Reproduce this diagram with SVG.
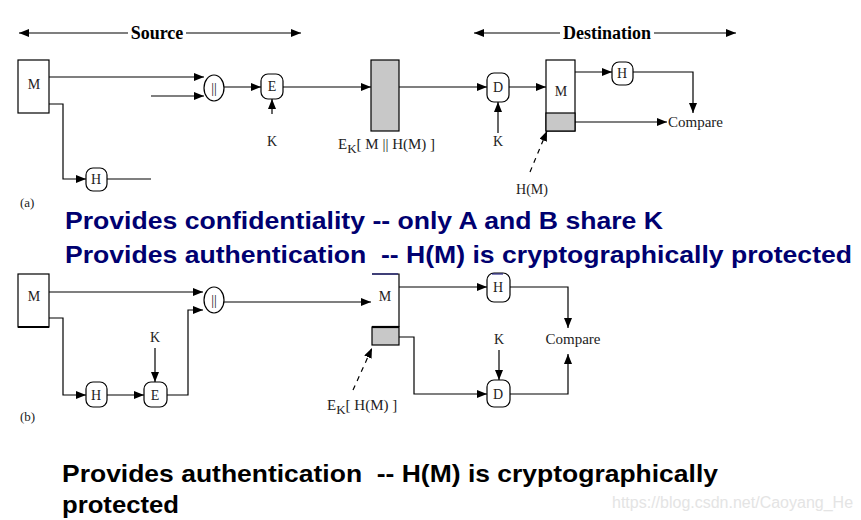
<svg xmlns="http://www.w3.org/2000/svg" width="861" height="520" viewBox="0 0 861 520">
<style>
.ln{fill:none;stroke:#000;stroke-width:1.2}
.dash{fill:none;stroke:#000;stroke-width:1.2;stroke-dasharray:5,5}
.box{fill:#fff;stroke:#000;stroke-width:1.2}
.gray{fill:#c8c8c8;stroke:#000;stroke-width:1.2}
.t{font-family:"Liberation Serif",serif;font-size:14px;fill:#222;text-anchor:middle}
.tl{font-family:"Liberation Serif",serif;font-size:15px;fill:#222}
.hdr{font-family:"Liberation Serif",serif;font-size:18px;font-weight:bold;fill:#000;text-anchor:middle}
.blue{font-family:"Liberation Sans",Arial,sans-serif;font-size:24px;font-weight:bold;fill:#000070}
.blk{font-family:"Liberation Sans",Arial,sans-serif;font-size:24px;font-weight:bold;fill:#000}
.wm{font-family:"Liberation Sans",Arial,sans-serif;font-size:16px;fill:#e4e4e4}
</style>
<defs>
<marker id="ah" viewBox="0 0 10 8" refX="10" refY="4" markerWidth="10" markerHeight="8" orient="auto-start-reverse" markerUnits="userSpaceOnUse"><path d="M0,0 L10,4 L0,8 z" fill="#000"/></marker>
</defs>
<rect width="861" height="520" fill="#fff"/>

<!-- (a) headers -->
<g id="source-hdr">
<path class="ln" d="M19,33 H128" marker-start="url(#ah)"/>
<path class="ln" d="M186,33 H301" marker-end="url(#ah)"/>
<text class="hdr" x="157" y="39">Source</text>
</g>
<g id="dest-hdr">
<path class="ln" d="M474,33 H560" marker-start="url(#ah)"/>
<path class="ln" d="M654,33 H736" marker-end="url(#ah)"/>
<text class="hdr" x="607" y="39">Destination</text>
</g>

<!-- (a) nodes -->
<g id="a-M"><rect class="box" x="18" y="60" width="31" height="53"/><text class="t" x="34" y="89">M</text></g>
<g id="a-concat"><ellipse class="box" cx="214" cy="88" rx="10" ry="13"/><text class="t" x="214" y="93">||</text></g>
<g id="a-E"><rect class="box" x="261" y="74" width="22" height="25" rx="7"/><text class="t" x="272" y="91">E</text></g>
<g id="a-K1"><text class="t" x="272" y="146">K</text></g>
<g id="a-H"><rect class="box" x="86" y="168" width="21" height="23" rx="7"/><text class="t" x="96" y="184">H</text></g>
<g id="a-label"><text class="tl" x="20" y="207" style="font-size:13px">(a)</text></g>
<g id="a-cipher"><rect class="gray" x="371" y="60" width="28" height="71"/>
<text class="tl" x="338" y="149">E<tspan dy="4" font-size="13">K</tspan><tspan dy="-4">[ M || H(M) ]</tspan></text></g>
<g id="a-D"><rect class="box" x="487" y="73" width="22" height="29" rx="7"/><text class="t" x="498" y="92">D</text></g>
<g id="a-K2"><text class="t" x="498" y="146">K</text></g>
<g id="a-Mdest"><rect class="box" x="546" y="60" width="29" height="71"/><rect class="gray" x="546" y="113" width="29" height="18"/><text class="t" x="561" y="96">M</text></g>
<g id="a-H2"><rect class="box" x="612" y="62" width="21" height="23" rx="7"/><text class="t" x="622" y="78">H</text></g>
<g id="a-compare"><text class="tl" x="668" y="127">Compare</text></g>
<g id="a-HM"><text class="t" x="532" y="194">H(M)</text></g>

<!-- (b) nodes -->
<g id="b-M"><rect class="box" x="18" y="274" width="31" height="53"/><path d="M18,327 H49" stroke="#000" stroke-width="2"/><text class="t" x="34" y="301">M</text></g>
<g id="b-concat"><ellipse class="box" cx="214" cy="300" rx="10" ry="13"/><text class="t" x="214" y="305">||</text></g>
<g id="b-H"><rect class="box" x="86" y="382" width="21" height="25" rx="7"/><text class="t" x="96" y="400">H</text></g>
<g id="b-E"><rect class="box" x="144" y="382" width="23" height="25" rx="7"/><text class="t" x="155" y="400">E</text></g>
<g id="b-K1"><text class="t" x="155" y="342">K</text></g>
<g id="b-label"><text class="tl" x="20" y="421" style="font-size:13px">(b)</text></g>
<g id="b-Mdest"><path class="ln" d="M372,274 H399 V327"/><rect class="gray" x="372" y="327" width="27" height="18"/><path d="M372,327 H399" stroke="#000" stroke-width="2.2"/><text class="t" x="385" y="301">M</text>
<text class="tl" x="327" y="410">E<tspan dy="4" font-size="13">K</tspan><tspan dy="-4">[ H(M) ]</tspan></text></g>
<g id="b-H2"><rect class="box" x="487" y="273" width="23" height="29" rx="7"/><text class="t" x="498" y="292">H</text></g>
<g id="b-K2"><text class="t" x="499" y="344">K</text></g>
<g id="b-D"><rect class="box" x="487" y="380" width="23" height="27" rx="7"/><text class="t" x="498" y="399">D</text></g>
<g id="b-compare"><text class="t" x="573" y="344" style="font-size:15px">Compare</text></g>

<!-- connectors -->
<g id="connectors">
<path class="ln" d="M49,77 H204" marker-end="url(#ah)"/>
<path class="ln" d="M151,96 H204" marker-end="url(#ah)"/>
<path class="ln" d="M224,87 H261" marker-end="url(#ah)"/>
<path class="ln" d="M272,114 V99" marker-end="url(#ah)"/>
<path class="ln" d="M49,104 H63 V179 H86" marker-end="url(#ah)"/>
<path class="ln" d="M107,179 H151"/>
<path class="ln" d="M283,87 H371" marker-end="url(#ah)"/>
<path class="ln" d="M399,87 H487" marker-end="url(#ah)"/>
<path class="ln" d="M498,133 V102" marker-end="url(#ah)"/>
<path class="ln" d="M509,87 H546" marker-end="url(#ah)"/>
<path class="ln" d="M575,72 H612" marker-end="url(#ah)"/>
<path class="ln" d="M633,72 H693 V113" marker-end="url(#ah)"/>
<path class="ln" d="M575,122 H667" marker-end="url(#ah)"/>
<path class="dash" d="M530,172 L547,131" marker-end="url(#ah)"/>

<path class="ln" d="M49,292 H203" marker-end="url(#ah)"/>
<path class="ln" d="M49,318 H63 V395 H86" marker-end="url(#ah)"/>
<path class="ln" d="M107,395 H144" marker-end="url(#ah)"/>
<path class="ln" d="M155,348 V382" marker-end="url(#ah)"/>
<path class="ln" d="M167,395 H188 V310 H203" marker-end="url(#ah)"/>
<path class="ln" d="M224,302 H371" marker-end="url(#ah)"/>
<path class="dash" d="M353,390 L372,348" marker-end="url(#ah)"/>
<path class="ln" d="M399,287 H487" marker-end="url(#ah)"/>
<path class="ln" d="M510,287 H568 V328" marker-end="url(#ah)"/>
<path class="ln" d="M499,350 V380" marker-end="url(#ah)"/>
<path class="ln" d="M399,337 H414 V394 H487" marker-end="url(#ah)"/>
<path class="ln" d="M510,394 H568 V354" marker-end="url(#ah)"/>
</g>

<!-- captions -->
<text class="blue" x="65" y="229" textLength="598" lengthAdjust="spacingAndGlyphs">Provides confidentiality -- only A and B share K</text>
<text class="blue" x="65" y="263" xml:space="preserve" textLength="787" lengthAdjust="spacingAndGlyphs">Provides authentication  -- H(M) is cryptographically protected</text>
<path d="M372,274 H398 M492,274 H503" stroke="#000070" stroke-width="1"/>
<text class="blk" x="62" y="482" xml:space="preserve" textLength="656" lengthAdjust="spacingAndGlyphs">Provides authentication  -- H(M) is cryptographically</text>
<text class="blk" x="62" y="513" textLength="117" lengthAdjust="spacingAndGlyphs">protected</text>
<text class="wm" x="612" y="508">https://blog.csdn.net/Caoyang_He</text>
</svg>
